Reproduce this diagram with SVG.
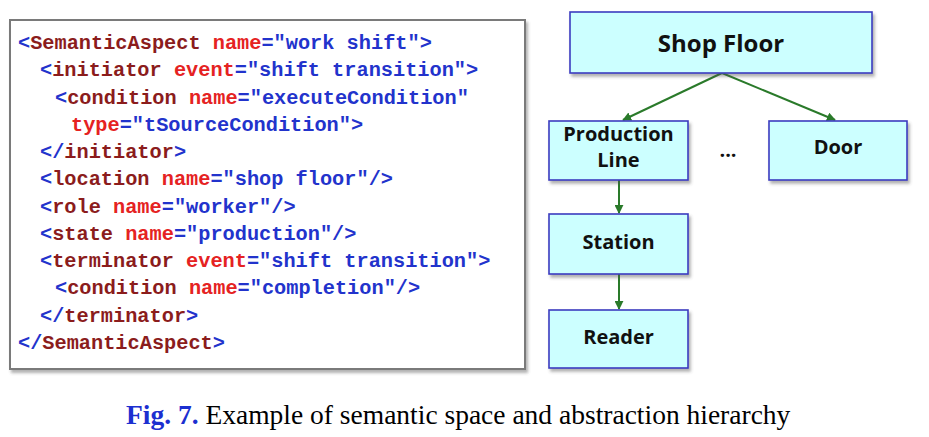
<svg xmlns="http://www.w3.org/2000/svg" width="929" height="437" viewBox="0 0 929 437">
<defs>
<style>
.code{font-family:"Liberation Mono","Courier New",monospace;font-weight:bold;font-size:20.3px}
.b{fill:#2233cc}.t{fill:#8b1c1c}.a{fill:#e52222}
.box{fill:#ccffff;stroke:#3c3cc0;stroke-width:1.6}
.lbl{font-family:"Open Sans","DejaVu Sans",sans-serif;font-weight:bold;fill:#111;text-anchor:middle}
.con{stroke:#2a7a2a;stroke-width:2;fill:none;marker-end:url(#ah)}
</style>
<marker id="ah" viewBox="0 0 10 10" refX="9" refY="5" markerWidth="4.5" markerHeight="4.5" orient="auto" markerUnits="strokeWidth">
<path d="M0,0 L10,5 L0,10 z" fill="#2a7a2a"/>
</marker>
<filter id="sh" x="-10%" y="-10%" width="130%" height="140%">
<feDropShadow dx="2" dy="3" stdDeviation="1.8" flood-color="#555" flood-opacity="0.45"/>
</filter>
</defs>
<rect width="929" height="437" fill="#fff"/>
<g id="code">
<rect x="10" y="20" width="515" height="349" fill="#fff" stroke="#7a7a7a" stroke-width="2" filter="url(#sh)"/>
<text class="code" x="18" y="49"><tspan class="b">&lt;</tspan><tspan class="t">SemanticAspect </tspan><tspan class="a">name</tspan><tspan class="b">="work shift"&gt;</tspan></text>
<text class="code" x="40" y="76.3"><tspan class="b">&lt;</tspan><tspan class="t">initiator </tspan><tspan class="a">event</tspan><tspan class="b">="shift transition"&gt;</tspan></text>
<text class="code" x="55" y="103.5"><tspan class="b">&lt;</tspan><tspan class="t">condition </tspan><tspan class="a">name</tspan><tspan class="b">="executeCondition"</tspan></text>
<text class="code" x="71" y="130.8"><tspan class="a">type</tspan><tspan class="b">="tSourceCondition"&gt;</tspan></text>
<text class="code" x="40" y="158.1"><tspan class="b">&lt;/</tspan><tspan class="t">initiator</tspan><tspan class="b">&gt;</tspan></text>
<text class="code" x="40" y="185.4"><tspan class="b">&lt;</tspan><tspan class="t">location </tspan><tspan class="a">name</tspan><tspan class="b">="shop floor"/&gt;</tspan></text>
<text class="code" x="40" y="212.6"><tspan class="b">&lt;</tspan><tspan class="t">role </tspan><tspan class="a">name</tspan><tspan class="b">="worker"/&gt;</tspan></text>
<text class="code" x="40" y="239.9"><tspan class="b">&lt;</tspan><tspan class="t">state </tspan><tspan class="a">name</tspan><tspan class="b">="production"/&gt;</tspan></text>
<text class="code" x="40" y="267.2"><tspan class="b">&lt;</tspan><tspan class="t">terminator </tspan><tspan class="a">event</tspan><tspan class="b">="shift transition"&gt;</tspan></text>
<text class="code" x="55" y="294.4"><tspan class="b">&lt;</tspan><tspan class="t">condition </tspan><tspan class="a">name</tspan><tspan class="b">="completion"/&gt;</tspan></text>
<text class="code" x="40" y="321.7"><tspan class="b">&lt;/</tspan><tspan class="t">terminator</tspan><tspan class="b">&gt;</tspan></text>
<text class="code" x="18" y="349"><tspan class="b">&lt;/</tspan><tspan class="t">SemanticAspect</tspan><tspan class="b">&gt;</tspan></text>
</g>
<g id="connectors">
<line class="con" x1="722" y1="73" x2="623" y2="120"/>
<line class="con" x1="722" y1="73" x2="835" y2="120"/>
<line class="con" x1="619" y1="180" x2="619" y2="213"/>
<line class="con" x1="619" y1="274" x2="619" y2="309"/>
</g>
<g id="shop-floor">
<rect class="box" x="570" y="12" width="302" height="61" filter="url(#sh)"/>
<text class="lbl" x="721" y="52" font-size="24">Shop Floor</text>
</g>
<g id="production-line">
<rect class="box" x="549" y="121" width="139" height="59" filter="url(#sh)"/>
<text class="lbl" x="618.5" y="141" font-size="20">Production</text>
<text class="lbl" x="618.5" y="167" font-size="20">Line</text>
</g>
<g id="ellipsis">
<text class="lbl" x="728" y="157" font-size="20">...</text>
</g>
<g id="door">
<rect class="box" x="769" y="121" width="138" height="59" filter="url(#sh)"/>
<text class="lbl" x="838" y="154" font-size="20">Door</text>
</g>
<g id="station">
<rect class="box" x="549" y="214" width="139" height="60" filter="url(#sh)"/>
<text class="lbl" x="618.5" y="249" font-size="20">Station</text>
</g>
<g id="reader">
<rect class="box" x="549" y="310" width="139" height="58" filter="url(#sh)"/>
<text class="lbl" x="618.5" y="344" font-size="20">Reader</text>
</g>
<g id="caption">
<text x="126" y="424" font-family="'Liberation Serif','Times New Roman',serif" font-size="27.5"><tspan font-weight="bold" fill="#1c2fd0">Fig. 7.</tspan><tspan fill="#000"> Example of semantic space and abstraction hierarchy</tspan></text>
</g>
</svg>
